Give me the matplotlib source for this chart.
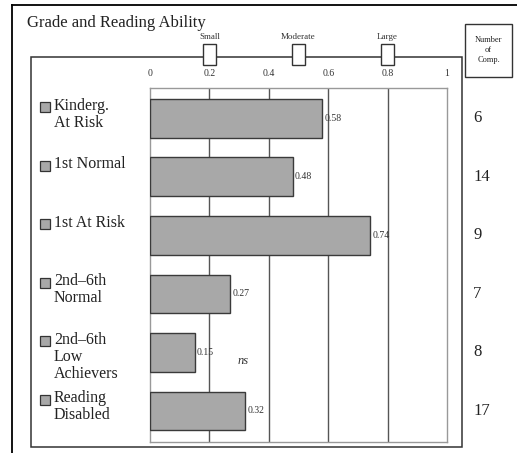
import matplotlib
matplotlib.use("Agg")
import matplotlib.pyplot as plt
import matplotlib.transforms as mtransforms
from matplotlib.patches import Rectangle
from matplotlib.lines import Line2D

# ── Data ──────────────────────────────────────────────────────────────
groups = ["Kinderg.\nAt Risk", "1st Normal", "1st At Risk",
          "2nd\u20136th\nNormal", "2nd\u20136th\nLow\nAchievers", "Reading\nDisabled"]
effect_sizes = [0.58, 0.48, 0.74, 0.27, 0.15, 0.32]
value_labels = ["0.58", "0.48", "0.74", "0.27", "0.15", "0.32"]
n_comparisons = [6, 14, 9, 7, 8, 17]
benchmarks = [0.2, 0.5, 0.8]
benchmark_names = ["Small", "Moderate", "Large"]
ticks = [0, 0.2, 0.4, 0.6, 0.8, 1.0]
tick_labels = ["0", "0.2", "0.4", "0.6", "0.8", "1"]

W, H = 517, 453
plt.rcParams["font.family"] = ["Liberation Serif", "DejaVu Serif"]

fig = plt.figure(figsize=(W / 100, H / 100), dpi=100)


def fx(x):
    return x / W


def fy(y):
    return 1 - y / H


# ── Frames ────────────────────────────────────────────────────────────
fig.add_artist(Line2D([fx(12), fx(12)], [fy(5), fy(453)], color="black", lw=1.3))
fig.add_artist(Line2D([fx(12), fx(517)], [fy(5), fy(5)], color="black", lw=1.3))
fig.add_artist(Rectangle((fx(31), fy(447)), fx(462) - fx(31), fy(57) - fy(447),
                         transform=fig.transFigure, fill=False,
                         edgecolor="#333333", lw=1.1))
fig.add_artist(Rectangle((fx(465), fy(77)), fx(512) - fx(465), fy(24) - fy(77),
                         transform=fig.transFigure, fill=False,
                         edgecolor="#333333", lw=1.0))
fig.text(fx(488.5), fy(50), "Number\nof\nComp.", ha="center", va="center",
         fontsize=6, linespacing=1.3, color="#222222")
fig.text(fx(27), fy(23), "Grade and Reading Ability", ha="left", va="center",
         fontsize=12, color="#222222")

# ── Chart ─────────────────────────────────────────────────────────────
ax = fig.add_axes([fx(150), fy(442), fx(447) - fx(150), fy(88) - fy(442)])
ypos = list(range(len(groups)))
bar_h = 0.665
ax.barh(ypos, effect_sizes, height=bar_h, color="#a8a8a8",
        edgecolor="#3a3a3a", lw=1.0, zorder=3)
for v in [0.2, 0.4, 0.6, 0.8]:
    ax.axvline(v, color="#555555", lw=1.0, zorder=2)

ax.set_xlim(0, 1)
ax.set_ylim(5.53, -0.52)
ax.xaxis.tick_top()
ax.set_xticks(ticks)
ax.set_xticklabels(tick_labels, fontsize=7, color="#333333")
ax.tick_params(axis="x", length=0, pad=7)
ax.set_yticks([])
for s in ax.spines.values():
    s.set_color("#999999")
    s.set_linewidth(1.0)

for y, v, lab in zip(ypos, effect_sizes, value_labels):
    ax.text(v + 0.008, y, lab, ha="left", va="center", fontsize=7,
            color="#333333", zorder=4)

ax.text(0.313, 4.15, "ns", ha="center", va="center", fontsize=9,
        style="italic", color="#333333")

# Group labels with small square markers
blend = mtransforms.blended_transform_factory(fig.transFigure, ax.transData)
for y, name in zip(ypos, groups):
    ax.text(fx(54), y - bar_h / 2 - 0.02, name, transform=blend, ha="left",
            va="top", fontsize=11.5, linespacing=1.08, color="#222222",
            clip_on=False)
    ax.plot([fx(44.5)], [y - 0.19], transform=blend, marker="s", ms=7.5,
            mfc="#a8a8a8", mec="#333333", mew=0.9, clip_on=False)

# Number of comparisons
for y, n in zip(ypos, n_comparisons):
    ax.text(fx(473), y, str(n), transform=blend, ha="left", va="center",
            fontsize=12, color="#222222", clip_on=False)

# Benchmark boxes on the top frame line
blend2 = mtransforms.blended_transform_factory(ax.transData, fig.transFigure)
bw = 0.044
for b, name in zip(benchmarks, benchmark_names):
    fig.add_artist(Rectangle((b - bw / 2, fy(65)), bw, fy(44) - fy(65),
                             transform=blend2, facecolor="white",
                             edgecolor="#333333", lw=1.0, zorder=5))
    fig.text(b, fy(37), name, transform=blend2, ha="center", va="center",
             fontsize=6.5, color="#333333")

fig.savefig("out.png", dpi=100)
